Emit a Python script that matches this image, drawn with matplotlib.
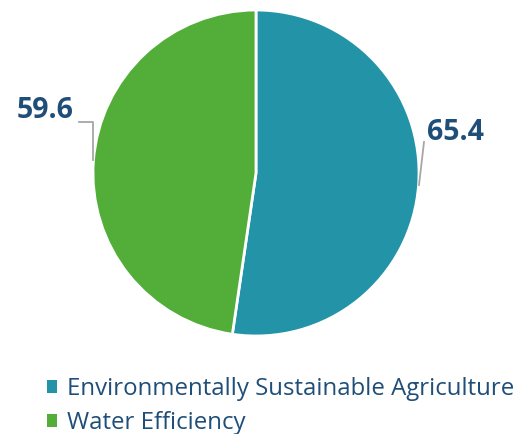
import matplotlib.pyplot as plt
from matplotlib.patches import Patch

categories = ['Environmentally Sustainable Agriculture', 'Water Efficiency']
values = [65.4, 59.6]
colors = ['#2394A8', '#52AE38']
label_color = '#1F4E79'

plt.rcParams['font.family'] = ['Open Sans', 'DejaVu Sans']

fig = plt.figure(figsize=(5.15, 4.34), dpi=100)
# pie axes: radius 1 -> 163 px, centre at (256,173) px
ax = fig.add_axes([93 / 515, 98 / 434, 326 / 515, 326 / 434])
wedges, _ = ax.pie(values, colors=colors, startangle=90, counterclock=False,
                   radius=1, wedgeprops=dict(edgecolor='white', linewidth=2))
ax.set_xlim(-1, 1)
ax.set_ylim(-1, 1)
ax.set_aspect('equal')
ax.axis('off')

def px(x, y):
    return ((x - 256) / 163, (173 - y) / 163)

# leader lines (gray) and value labels
line_kw = dict(color='#A6A6A6', lw=1.3, clip_on=False)
x0, y0 = px(419, 185); x1, y1 = px(424, 142)
ax.plot([x0, x1], [y0, y1], **line_kw)
x0, y0 = px(93, 160); x1, y1 = px(93, 122); x2, y2 = px(79, 122)
ax.plot([x0, x1, x2], [y0, y1, y2], **line_kw)

tx, ty = px(427, 133)
ax.text(tx, ty, f'{values[0]:.1f}', ha='left', va='center', fontsize=20.5,
        fontweight='bold', color=label_color, clip_on=False)
tx, ty = px(74, 111)
ax.text(tx, ty, f'{values[1]:.1f}', ha='right', va='center', fontsize=20.5,
        fontweight='bold', color=label_color, clip_on=False)

handles = [Patch(facecolor=c, edgecolor='none') for c in colors]
leg = fig.legend(handles, categories, loc='upper left',
                 bbox_to_anchor=(37 / 515, 1 - 367 / 434), frameon=False,
                 fontsize=17.3, handlelength=0.45, handleheight=0.45,
                 handletextpad=0.4, labelspacing=0.42, borderaxespad=0)
for t in leg.get_texts():
    t.set_color(label_color)

fig.savefig('out.png', dpi=100)
